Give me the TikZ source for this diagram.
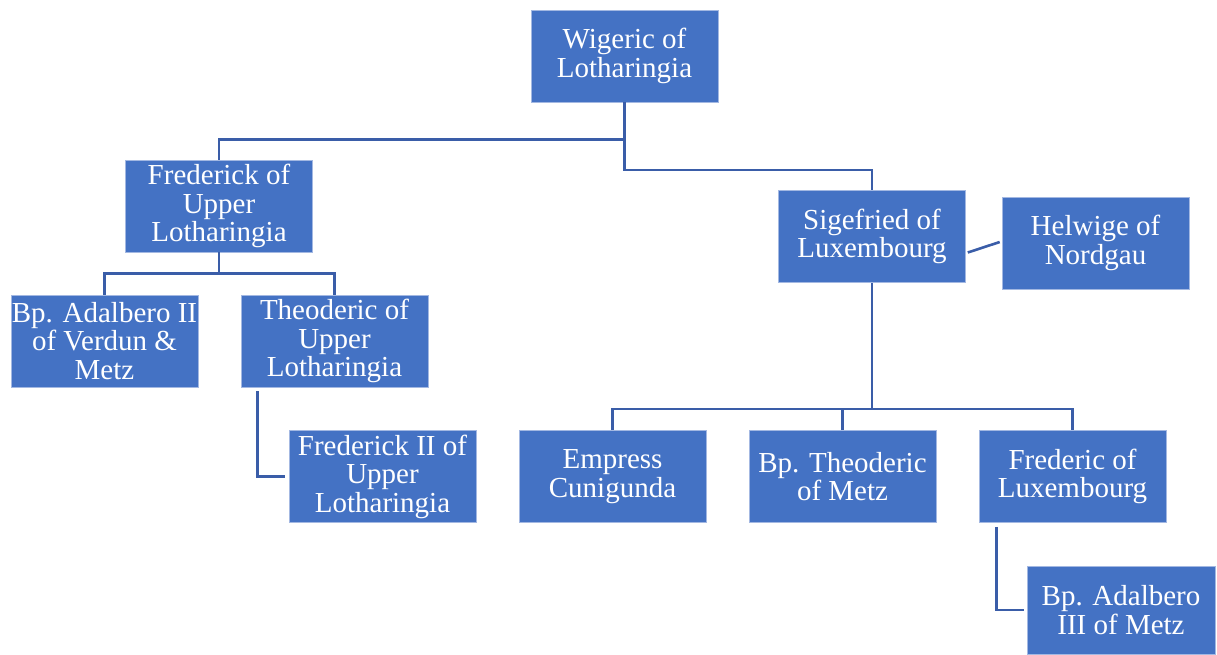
\documentclass[tikz,border=0pt]{standalone}
\usepackage{fontspec}
\setmainfont{Liberation Serif}
\definecolor{boxblue}{HTML}{4472C4}
\definecolor{boxedge}{HTML}{A3B8E2}
\definecolor{linkblue}{HTML}{3A5DA8}
\begin{document}
\begin{tikzpicture}[x=1pt,y=-1pt,
  person/.style={rectangle, fill=boxblue, draw=boxedge, line width=0.6pt,
    minimum width=187pt, minimum height=92pt, inner sep=0pt, text=white,
    align=center, font=\fontsize{29}{28.5}\selectfont},
  link/.style={draw=linkblue, line width=2.6pt}]
\useasboundingbox (0,0) rectangle (1217,654);
\node[person] (wig)   at (624.5,56)    {Wigeric of\\Lotharingia};
\node[person] (fred)  at (219,206)     {Frederick of\\Upper\\Lotharingia};
\node[person] (sig)   at (872,236.5)   {Sigefried of\\Luxembourg};
\node[person] (helw)  at (1095.5,243)  {Helwige of\\Nordgau};
\node[person] (adal)  at (104.5,341)   {Bp. Adalbero II\\of Verdun \&\\Metz};
\node[person] (theo)  at (334.5,341)   {Theoderic of\\Upper\\Lotharingia};
\node[person] (fred2) at (382.5,476.5) {Frederick II of\\Upper\\Lotharingia};
\node[person] (emp)   at (612.5,476.5) {Empress\\Cunigunda};
\node[person] (bpth)  at (842.5,476.5) {Bp. Theoderic\\of Metz};
\node[person] (frlux) at (1072.5,476.5){Frederic of\\Luxembourg};
\node[person, minimum width=188pt, minimum height=88pt] (adal3) at (1121,610) {Bp. Adalbero\\III of Metz};

\draw[link] (wig.south) -- ++(0,37) -| (fred.north);
\draw[link] (wig.south) -- ++(0,67.5) -| (sig.north);
\draw[link] (fred.south) -- ++(0,21) coordinate (fj);
\draw[link] (adal.north) |- (fj) -| (theo.north);
\draw[link] ([shift={(17,4)}]theo.south west) |- ([xshift=-4]fred2.west);
\draw[link] ([shift={(2,16)}]sig.east) -- ([shift={(-2,-1)}]helw.west);
\draw[link] (sig.south) -- ++(0,126) coordinate (sj);
\draw[link] (emp.north) |- (sj) -| (frlux.north);
\draw[link] (bpth.north) -- (bpth.north |- sj);
\draw[link] ([shift={(18,4)}]frlux.south west) |- ([xshift=-3]adal3.west);
\end{tikzpicture}
\end{document}
